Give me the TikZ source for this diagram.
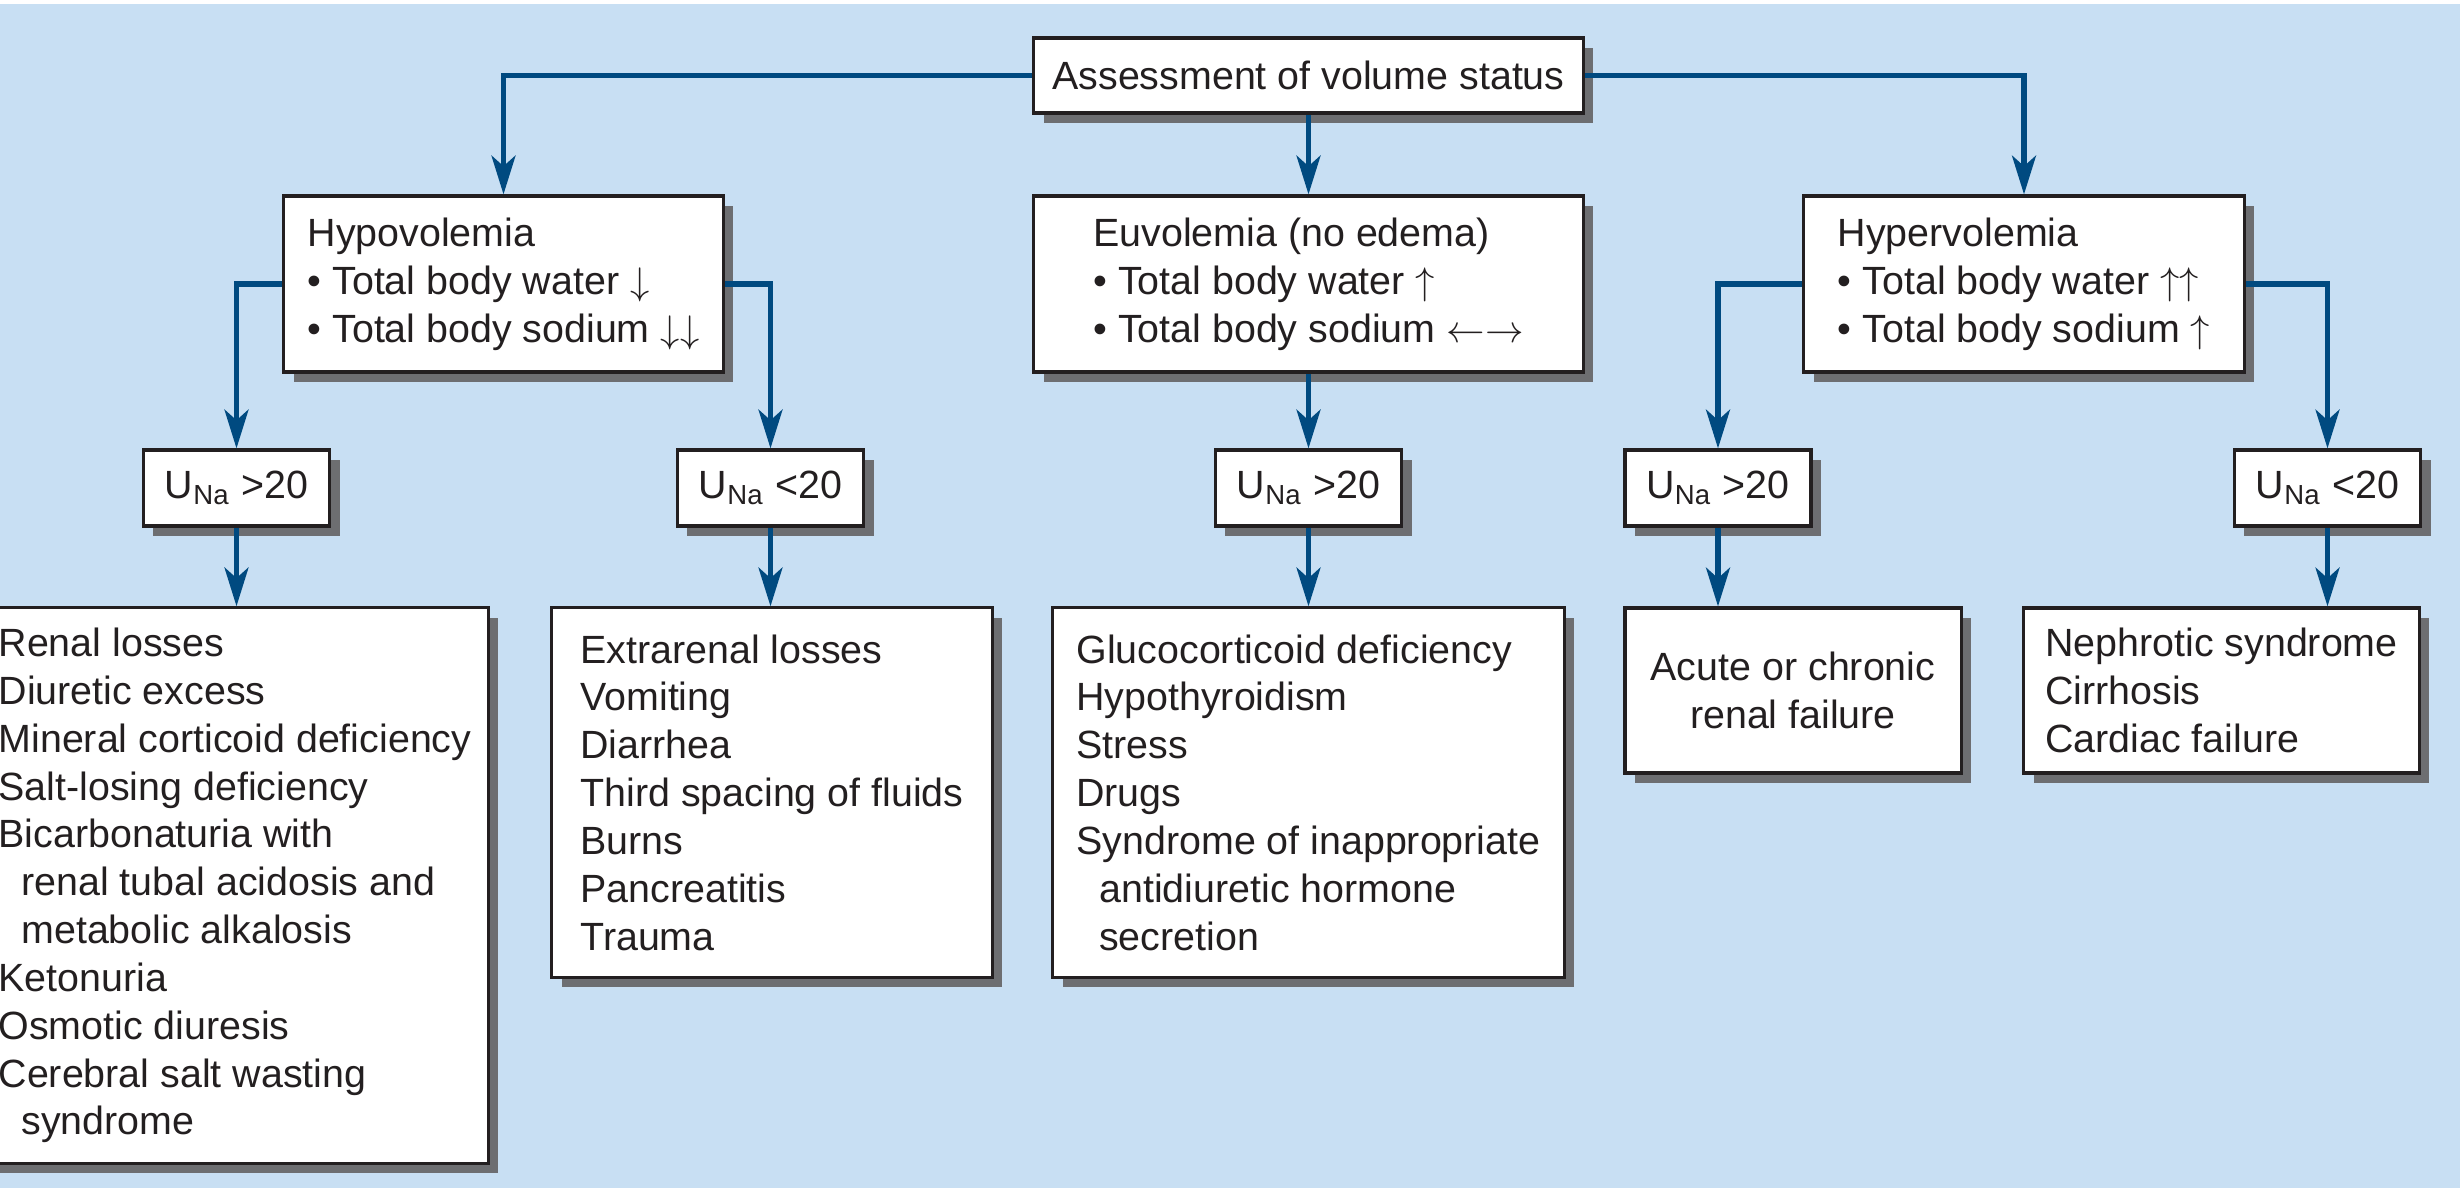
\documentclass[tikz,border=0pt]{standalone}
\usepackage{fontspec}
\setmainfont{Liberation Sans}
\usetikzlibrary{arrows.meta,shadows}

\definecolor{bgblue}{RGB}{200,223,243}
\definecolor{linkblue}{RGB}{0,74,128}
\definecolor{shadowgray}{RGB}{109,110,113}
\definecolor{inkblack}{RGB}{35,31,32}
\newcommand{\contline}{\hspace*{6.5pt}}

\begin{document}
\begin{tikzpicture}[x=0.01cm,y=-0.01cm,
  font=\fontsize{11.2pt}{13.6pt}\selectfont,
  box/.style={draw=inkblack,line width=0.9pt,fill=white,text=inkblack,align=left,inner sep=0pt,
    drop shadow={shadow xshift=0.1cm,shadow yshift=-0.1cm,fill=shadowgray,opacity=1}},
  unabox/.style={box,minimum width=1.86cm,minimum height=0.76cm},
  arr/.style={draw=linkblue,line width=1.5pt,-{Stealth[length=11pt,width=6.8pt,inset=3pt]}}]
\useasboundingbox (0,0) rectangle (2460,1188);
\fill[white] (0,0) rectangle (2460,4);
\fill[bgblue] (0,4) rectangle (2460,1188);
\clip (0,0) rectangle (2460,1188);

% top
\node[box,minimum width=5.49cm,minimum height=0.75cm] (assess) at (1308.5,75.5) {Assessment of volume status};

% volume status
\node[box,minimum width=4.39cm,minimum height=1.76cm] (hypo) at (503.5,284)
  {Hypovolemia\\\textbullet{} Total body water $\downarrow$\\\textbullet{} Total body sodium $\downarrow\downarrow$};
\node[box,minimum width=5.49cm,minimum height=1.76cm] (eu) at (1308.5,284)
  {Euvolemia (no edema)\\\textbullet{} Total body water $\uparrow$\\\textbullet{} Total body sodium $\leftarrow\rightarrow$};
\node[box,minimum width=4.40cm,minimum height=1.76cm] (hyper) at (2024,284)
  {Hypervolemia\\\textbullet{} Total body water $\uparrow\uparrow$\\\textbullet{} Total body sodium $\uparrow$};

% urine sodium
\node[unabox] (hypoA) at (236.5,488) {U\textsubscript{Na} >20};
\node[unabox] (hypoB) at (770.5,488) {U\textsubscript{Na} <20};
\node[unabox] (euA) at (1308.5,488) {U\textsubscript{Na} >20};
\node[unabox] (hyperA) at (1718,488) {U\textsubscript{Na} >20};
\node[unabox] (hyperB) at (2327.5,488) {U\textsubscript{Na} <20};

% causes
\node[box,minimum width=5.06cm,minimum height=5.55cm] (renal) at (235,885.5)
  {Renal losses\\Diuretic excess\\Mineral corticoid deficiency\\Salt-losing deficiency\\Bicarbonaturia with\\
   \contline renal tubal acidosis and\\\contline metabolic alkalosis\\Ketonuria\\Osmotic diuresis\\
   Cerebral salt wasting\\\contline syndrome};
\node[box,minimum width=4.40cm,minimum height=3.69cm] (extra) at (772,792.5)
  {Extrarenal losses\\Vomiting\\Diarrhea\\Third spacing of fluids\\Burns\\Pancreatitis\\Trauma};
\node[box,minimum width=5.11cm,minimum height=3.69cm] (gluco) at (1308.5,792.5)
  {Glucocorticoid deficiency\\Hypothyroidism\\Stress\\Drugs\\Syndrome of inappropriate\\
   \contline antidiuretic hormone\\\contline secretion};
\node[box,align=center,minimum width=3.36cm,minimum height=1.65cm] (acute) at (1793,690.5)
  {Acute or chronic\\renal failure};
\node[box,minimum width=3.95cm,minimum height=1.65cm] (nephro) at (2221.5,690.5)
  {Nephrotic syndrome\\Cirrhosis\\Cardiac failure};

% connectors
\draw[arr] (assess.west) -| (hypo.north);
\draw[arr] (assess.south) -- (eu.north);
\draw[arr] (assess.east) -| (hyper.north);
\draw[arr] (hypo.west) -| (hypoA.north);
\draw[arr] (hypo.east) -| (hypoB.north);
\draw[arr] (eu.south) -- (euA.north);
\draw[arr] (hyper.west) -| (hyperA.north);
\draw[arr] (hyper.east) -| (hyperB.north);
\foreach \a/\b in {hypoA/renal,hypoB/extra,euA/gluco,hyperA/acute,hyperB/nephro}
  \draw[arr] (\a.south) -- (\a.south |- \b.north);
\end{tikzpicture}
\end{document}
